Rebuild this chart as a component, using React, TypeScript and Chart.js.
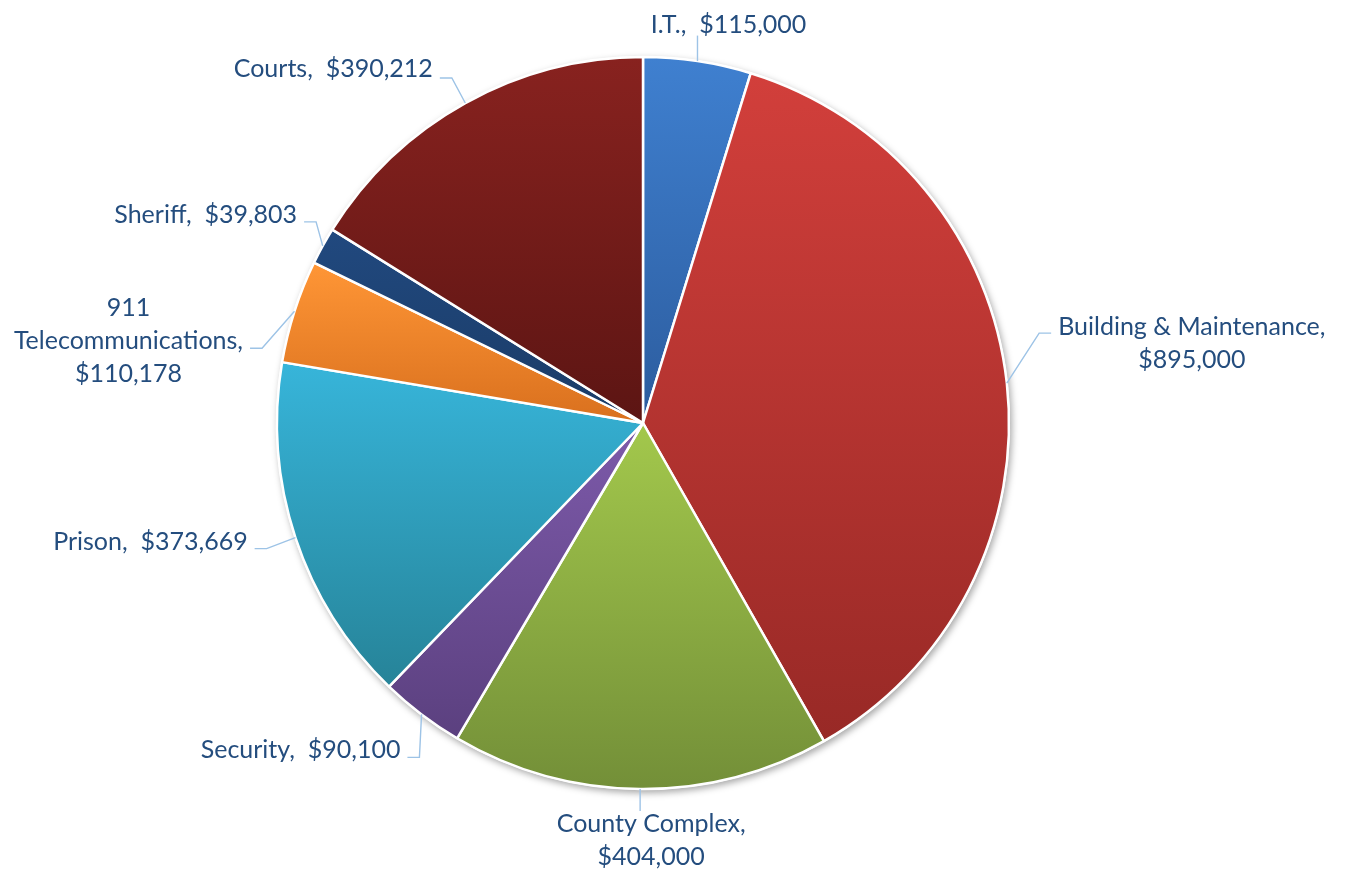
import React, { useEffect, useRef } from "react";
import { Chart, registerables } from "chart.js";

Chart.register(...registerables);

// ---- data ----
const categories = [
  "I.T.",
  "Building & Maintenance",
  "County Complex",
  "Security",
  "Prison",
  "911 Telecommunications",
  "Sheriff",
  "Courts",
];
const values = [115000, 895000, 404000, 90100, 373669, 110178, 39803, 390212];

// ---- styles ----
const topColors = ["#3F80D0", "#D23F3B", "#A3C84C", "#7D5AAA", "#37B5DA", "#FF9636", "#21497F", "#88221F"];
const bottomColors = ["#2C5C9E", "#982926", "#738F38", "#5B407F", "#268398", "#D9701E", "#1A3B66", "#5C1513"];

// label layout: offset of label centre from the slice's outer mid-point,
// wrap mode (0 inline, 1 name / value, 2 words / value), leader kind, elbow dy
const labelDx = [31, 185, 11, -121, -145, -166, -117, -132];
const labelDy = [-36, -40, 51, 36, 4, 30, -31, -34];
const labelWrap = [0, 1, 1, 0, 0, 2, 0, 0];
const leaderKind = ["v", "h", "v", "h", "h", "h", "h", "h"];
const elbowDy = [0, -10, 0, 7, 7, 7, 7, 9];

const FONT_SIZE = 25;
const LINE_H = 33;
const FONT = `${FONT_SIZE}px Lato, "Open Sans", sans-serif`;
const TEXT_COLOR = "#244D7E";
const LEADER_COLOR = "#9DC3E6";
const RADIUS = 366;

const total = values.reduce((a, b) => a + b, 0);

function fmt(v: number) {
  return "$" + v.toLocaleString("en-US");
}

function labelLines(i: number): string[] {
  const name = categories[i];
  const val = fmt(values[i]);
  if (labelWrap[i] === 0) return [`${name},  ${val}`];
  if (labelWrap[i] === 1) return [`${name},`, val];
  const words = name.split(" ");
  return [...words.slice(0, -1), words[words.length - 1] + ",", val];
}

function sliceAngles(i: number): [number, number] {
  let s = 0;
  for (let j = 0; j < i; j++) s += values[j];
  const a0 = -Math.PI / 2 + (s / total) * Math.PI * 2;
  const a1 = a0 + (values[i] / total) * Math.PI * 2;
  return [a0, a1];
}

function bgColor(ctx: any) {
  const i = ctx.dataIndex;
  const chart = ctx.chart;
  const area = chart.chartArea;
  if (!area) return topColors[i];
  const cx = (area.left + area.right) / 2;
  const cy = (area.top + area.bottom) / 2;
  const [a0, a1] = sliceAngles(i);
  const ys = [cy, cy + RADIUS * Math.sin(a0), cy + RADIUS * Math.sin(a1)];
  const inRange = (a: number) => a >= a0 && a <= a1;
  if (inRange(Math.PI / 2)) ys.push(cy + RADIUS);
  if (inRange(-Math.PI / 2) || inRange((3 * Math.PI) / 2)) ys.push(cy - RADIUS);
  const y0 = Math.min(...ys);
  const y1 = Math.max(...ys);
  const g = chart.ctx.createLinearGradient(0, y0, 0, y1);
  g.addColorStop(0, topColors[i]);
  g.addColorStop(1, bottomColors[i]);
  return g;
}

const shadowPlugin = {
  id: "pieShadow",
  beforeDatasetsDraw(chart: any) {
    const meta = chart.getDatasetMeta(0);
    const el = meta.data[0];
    if (!el) return;
    const c = chart.ctx;
    c.save();
    c.shadowColor = "rgba(0,0,0,0.35)";
    c.shadowBlur = 7;
    c.shadowOffsetX = 2;
    c.shadowOffsetY = 3;
    c.fillStyle = "#ffffff";
    c.beginPath();
    c.arc(el.x, el.y, el.outerRadius + 1, 0, Math.PI * 2);
    c.fill();
    c.restore();
  },
};

const labelPlugin = {
  id: "pieLabels",
  afterDatasetsDraw(chart: any) {
    const meta = chart.getDatasetMeta(0);
    const c = chart.ctx;
    c.save();
    c.font = FONT;
    c.textAlign = "center";
    c.textBaseline = "middle";
    meta.data.forEach((el: any, i: number) => {
      const mid = (el.startAngle + el.endAngle) / 2;
      const ax = el.x + el.outerRadius * Math.cos(mid);
      const ay = el.y + el.outerRadius * Math.sin(mid);
      const lx = ax + labelDx[i];
      const ly = ay + labelDy[i];
      const lines = labelLines(i);
      const w = Math.max(...lines.map((t) => c.measureText(t).width));
      const h = lines.length * LINE_H;

      // leader line
      c.strokeStyle = LEADER_COLOR;
      c.lineWidth = 1.4;
      c.beginPath();
      if (leaderKind[i] === "v") {
        const endY = ay < el.y ? ly + h / 2 - 6 : ly - h / 2 + 4;
        c.moveTo(ax, ay);
        c.lineTo(ax, endY);
      } else {
        const dir = ax > lx ? 1 : -1;
        const edge = lx + (dir * w) / 2;
        const ey = ly + elbowDy[i];
        const endX = edge + dir * 7;
        const elbowX = endX + dir * 12;
        c.moveTo(ax, ay);
        c.lineTo(elbowX, ey);
        c.lineTo(endX, ey);
      }
      c.stroke();

      // text
      c.fillStyle = TEXT_COLOR;
      lines.forEach((t, k) => {
        const y = ly - h / 2 + LINE_H / 2 + k * LINE_H;
        c.fillText(t, lx, y);
      });
    });
    c.restore();
  },
};

export default function App() {
  const ref = useRef<HTMLCanvasElement | null>(null);
  useEffect(() => {
    document.body.style.margin = "0";
    if (!ref.current) return;
    const chart = new Chart(ref.current, {
      type: "pie",
      data: {
        labels: categories,
        datasets: [
          {
            data: values,
            backgroundColor: bgColor as any,
            borderColor: "#ffffff",
            borderWidth: 2.5,
            radius: RADIUS,
          } as any,
        ],
      },
      options: {
        animation: false,
        responsive: false,
        devicePixelRatio: 1,
        layout: { padding: { left: 277, right: 338, top: 57, bottom: 82 } },
        plugins: {
          legend: { display: false },
          tooltip: { enabled: false },
        },
      },
      plugins: [shadowPlugin, labelPlugin],
    });
    return () => chart.destroy();
  }, []);
  return (
    <div style={{ position: "absolute", left: 0, top: 0, width: 1347, height: 871, background: "#fff" }}>
      <canvas ref={ref} width={1347} height={871} />
    </div>
  );
}
